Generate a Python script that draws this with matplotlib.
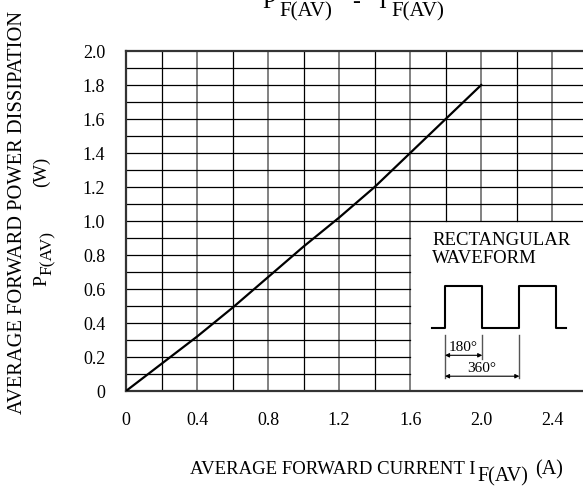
import matplotlib
matplotlib.use("Agg")
import matplotlib.pyplot as plt
import numpy as np

plt.rcParams['font.family'] = ['Liberation Serif', 'DejaVu Serif']

# data
current = [0, 0.2, 0.4, 0.6, 0.8, 1.0, 1.2, 1.4, 1.6, 1.8, 2.0]
power = [0, 0.16, 0.32, 0.49, 0.67, 0.85, 1.02, 1.20, 1.40, 1.60, 1.80]
x_ticks = [0, 0.4, 0.8, 1.2, 1.6, 2.0, 2.4]
x_ticklabels = ['0', '0.4', '0.8', '1.2', '1.6', '2.0', '2.4']
y_ticks = [0, 0.2, 0.4, 0.6, 0.8, 1.0, 1.2, 1.4, 1.6, 1.8, 2.0]
y_ticklabels = ['0', '0.2', '0.4', '0.6', '0.8', '1.0', '1.2', '1.4', '1.6', '1.8', '2.0']

W, H = 583, 486
fig = plt.figure(figsize=(W / 100, H / 100), dpi=100)
x0, y0, ytop = 126, 391, 51
unit = 177.6
xmax = 2.6
ax = fig.add_axes([x0 / W, (H - y0) / H, xmax * unit / W, (y0 - ytop) / H])
ax.set_xlim(0, xmax)
ax.set_ylim(0, 2.0)

# grid (leave inset area free)
for xv in np.arange(0.2, 2.61, 0.2):
    xv = round(xv, 1)
    major = abs(xv / 0.4 - round(xv / 0.4)) < 1e-6
    col = '#777777' if major else 'black'
    lw = 1.3 if major else 0.9
    lo = 0 if xv <= 1.6 else 1.0
    ax.plot([xv, xv], [lo, 2.0], color=col, lw=lw, zorder=1)
for yv in np.arange(0.1, 2.0, 0.1):
    yv = round(yv, 1)
    hi = xmax if yv >= 1.0 else 1.6
    ax.plot([0, hi], [yv, yv], color='black', lw=0.9, zorder=1)

ax.plot(current, power, color='black', lw=1.6, zorder=3)

for s in ['left', 'bottom', 'top']:
    ax.spines[s].set_linewidth(1.6)
    ax.spines[s].set_color('#333333')
ax.spines['right'].set_visible(False)

ax.set_xticks(x_ticks)
ax.set_xticklabels(x_ticklabels)
ax.set_yticks(y_ticks)
ax.set_yticklabels(y_ticklabels)
ax.tick_params(length=0, pad=15, labelsize=13)

# inset
ax.text(1.725, 0.935, 'RECTANGULAR\nWAVEFORM', fontsize=13.5, va='top', ha='left', linespacing=1.05)
wx = [1.725, 1.796, 1.796, 2.006, 2.006, 2.215, 2.215, 2.42, 2.42, 2.48]
wy = [0.37, 0.37, 0.618, 0.618, 0.37, 0.37, 0.618, 0.618, 0.37, 0.37]
ax.plot(wx, wy, color='black', lw=1.5, zorder=3)
for xv, lo in [(1.796, 0.075), (2.006, 0.19), (2.215, 0.075)]:
    ax.plot([xv, xv], [lo, 0.33], color='#555555', lw=1.0)
ax.annotate('', xy=(2.006, 0.21), xytext=(1.796, 0.21),
            arrowprops=dict(arrowstyle='<|-|>', color='black', lw=0.8, mutation_scale=6, shrinkA=0, shrinkB=0))
ax.annotate('', xy=(2.215, 0.087), xytext=(1.796, 0.087),
            arrowprops=dict(arrowstyle='<|-|>', color='black', lw=0.8, mutation_scale=6, shrinkA=0, shrinkB=0))
ax.text(1.9, 0.215, '180°', fontsize=11, ha='center', va='bottom')
ax.text(2.0, 0.095, '360°', fontsize=11, ha='center', va='bottom')

renderer = fig.canvas.get_renderer()


def seq_text(pieces, x, y, vertical=False):
    """pieces: (text, fontsize, shift_px, gap_px); x,y pixels from bottom-left (baseline start)."""
    pos = x if not vertical else y
    for txt, size, shift, gap in pieces:
        pos += gap
        if vertical:
            t = fig.text((x + shift) / W, pos / H, txt, fontsize=size, rotation=90,
                         rotation_mode='anchor', ha='left', va='baseline')
            bb = t.get_window_extent(renderer)
            pos += bb.height
        else:
            t = fig.text(pos / W, (y - shift) / H, txt, fontsize=size,
                         ha='left', va='baseline')
            bb = t.get_window_extent(renderer)
            pos += bb.width


# labels
fig.text(18 / W, 1 - 212 / H, 'AVERAGE FORWARD POWER DISSIPATION', rotation=90,
         fontsize=14.8, ha='center', va='center')
seq_text([('P', 14, 0, 0), ('F(AV)', 12.5, 6, 0), ('(W)', 13.5, 0, 44)], 46, H - 286, vertical=True)
seq_text([('AVERAGE FORWARD CURRENT I', 13.5, 0, 0), ('F(AV)', 14.5, 7, 2), ('(A)', 14.5, 0, 7)],
         190, H - 474)
seq_text([('P', 17, 0, 0), ('F(AV)', 15, 8, 4), ('-', 17, 0, 20), ('I', 17, 0, 18), ('F(AV)', 15, 8, 6)],
         262, H - 8)

fig.savefig('out.png', dpi=100)
